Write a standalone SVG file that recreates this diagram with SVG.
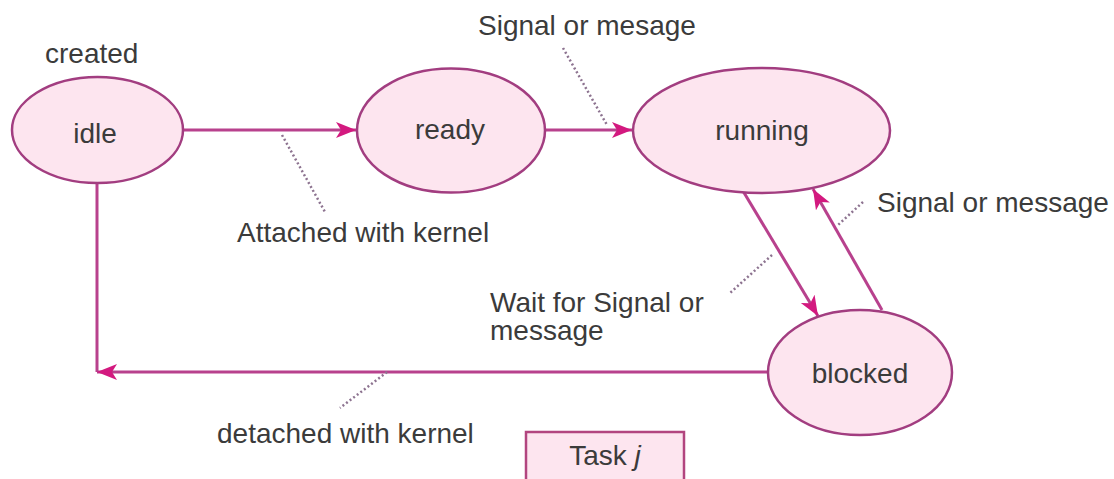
<svg xmlns="http://www.w3.org/2000/svg" width="1114" height="479" viewBox="0 0 1114 479">
  <style>
    .state { fill: #fde5ef; stroke: #a23d80; stroke-width: 2.5; }
    .lbl { font-family: "Liberation Sans", Arial, sans-serif; font-size: 28px; fill: #3b3b3b; }
    .mid { text-anchor: middle; }
    .edge { fill: none; stroke: #b8418d; stroke-width: 3; }
    .lead { fill: none; stroke: #8d7390; stroke-width: 2.5; stroke-dasharray: 2 2.5; }
  </style>
  <defs>
    <marker id="arrow" markerUnits="userSpaceOnUse" markerWidth="22" markerHeight="18" refX="20" refY="8" orient="auto">
      <path d="M0,0 L20,8 L0,16 L5,8 z" fill="#d3197f"/>
    </marker>
  </defs>
  <rect width="1114" height="479" fill="#ffffff"/>

  <!-- transitions -->
  <g id="connectors">
    <line class="edge" x1="183" y1="130" x2="356" y2="130" marker-end="url(#arrow)"/>
    <line class="edge" x1="545" y1="130" x2="632" y2="130" marker-end="url(#arrow)"/>
    <line class="edge" x1="743" y1="191" x2="818" y2="316" marker-end="url(#arrow)"/>
    <line class="edge" x1="882" y1="310" x2="813" y2="189" marker-end="url(#arrow)"/>
    <line class="edge" x1="97" y1="183" x2="97" y2="372"/>
    <line class="edge" x1="768" y1="372" x2="97" y2="372" marker-end="url(#arrow)"/>
    <!-- dotted label leaders -->
    <line class="lead" x1="282" y1="135" x2="325" y2="212"/>
    <line class="lead" x1="563" y1="48" x2="607" y2="125"/>
    <line class="lead" x1="863" y1="202" x2="838" y2="225"/>
    <line class="lead" x1="772" y1="255" x2="730" y2="293"/>
    <line class="lead" x1="387" y1="372" x2="340" y2="408"/>
  </g>

  <g id="idle">
    <ellipse class="state" cx="97.5" cy="130" rx="85.5" ry="53"/>
    <text class="lbl mid" x="95" y="143">idle</text>
  </g>
  <g id="ready">
    <ellipse class="state" cx="451" cy="130.5" rx="94" ry="62"/>
    <text class="lbl mid" x="450" y="139">ready</text>
  </g>
  <g id="running">
    <ellipse class="state" cx="761.5" cy="130.5" rx="128.5" ry="62.5"/>
    <text class="lbl mid" x="762" y="140">running</text>
  </g>
  <g id="blocked">
    <ellipse class="state" cx="860" cy="372.5" rx="92" ry="62.5"/>
    <text class="lbl mid" x="860" y="383">blocked</text>
  </g>

  <g id="labels">
    <text class="lbl" x="45" y="63">created</text>
    <text class="lbl" x="478" y="35">Signal or mesage</text>
    <text class="lbl" x="237" y="242">Attached with kernel</text>
    <text class="lbl" x="877" y="212">Signal or message</text>
    <text class="lbl" x="490" y="312">Wait for Signal or</text>
    <text class="lbl" x="490" y="340">message</text>
    <text class="lbl" x="217" y="443">detached with kernel</text>
  </g>

  <g id="task">
    <rect x="526" y="432" width="158" height="52" fill="#fde5ef" stroke="#b2457f" stroke-width="2.5"/>
    <text class="lbl mid" x="605" y="465">Task <tspan font-style="italic">j</tspan></text>
  </g>
</svg>
